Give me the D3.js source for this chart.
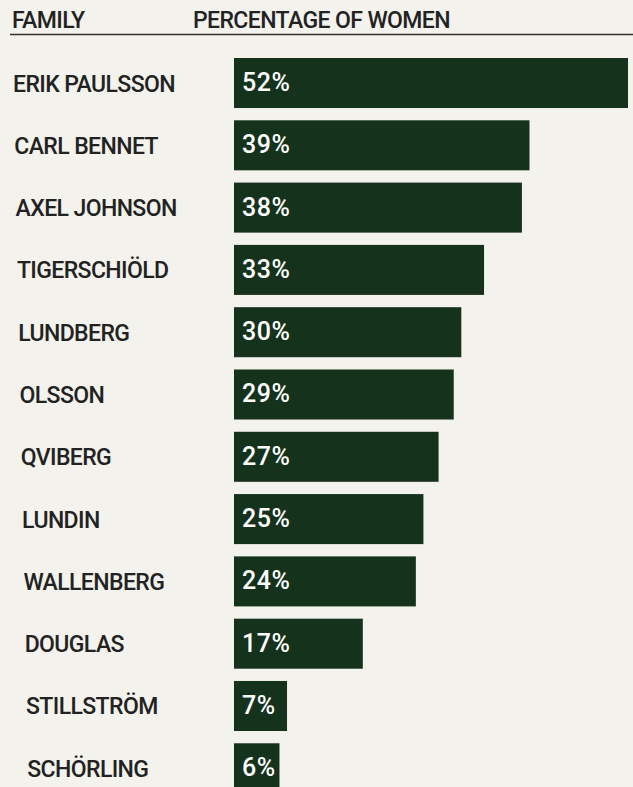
<!DOCTYPE html>
<html>
<head>
<meta charset="utf-8">
<script src="https://cdn.jsdelivr.net/npm/d3@7"></script>
<style>
  html, body { margin: 0; padding: 0; background: #f3f2ec; }
  svg { display: block; }
  text { font-family: Roboto, "Liberation Sans", sans-serif; font-weight: 500; }
</style>
</head>
<body>
<div id="chart"></div>
<script>
// Share of women per family
const families = ["ERIK PAULSSON", "CARL BENNET", "AXEL JOHNSON", "TIGERSCHIÖLD", "LUNDBERG",
  "OLSSON", "QVIBERG", "LUNDIN", "WALLENBERG", "DOUGLAS", "STILLSTRÖM", "SCHÖRLING"];
const womenPct = [52, 39, 38, 33, 30, 29, 27, 25, 24, 17, 7, 6];
const headers = ["FAMILY", "PERCENTAGE OF WOMEN"];

var width = 633, height = 787;

var svg = d3.select("#chart").append("svg")
  .attr("width", width)
  .attr("height", height);

var x = d3.scaleLinear().domain([0, 52]).range([234, 628]);
var y = d3.scaleBand().domain(families).range([58, 793.3]).paddingInner(0.197).paddingOuter(0);

// header
svg.append("text").attr("x", 12).attr("y", 28).attr("font-size", 23).attr("letter-spacing", -0.6)
  .attr("fill", "#222").text(headers[0]);
svg.append("text").attr("x", 193).attr("y", 28).attr("font-size", 23).attr("letter-spacing", -0.6)
  .attr("fill", "#222").text(headers[1]);
svg.append("line").attr("x1", 10).attr("x2", width).attr("y1", 34.5).attr("y2", 34.5)
  .attr("stroke", "#333").attr("stroke-width", 1.5);

var rows = svg.selectAll("g.row").data(families).enter().append("g").attr("class", "row");

rows.append("rect")
  .attr("x", x(0))
  .attr("y", d => y(d))
  .attr("width", (d, i) => x(womenPct[i]) - x(0))
  .attr("height", y.bandwidth())
  .attr("fill", "#15321d");

// labels drift slightly to the right going down, like the original
rows.append("text")
  .attr("x", (d, i) => 13 + i * 1.3)
  .attr("y", d => y(d) + 33.5)
  .attr("font-size", 23).attr("letter-spacing", -0.6)
  .attr("fill", "#222")
  .text(d => d);

rows.append("text")
  .attr("x", x(0) + 8)
  .attr("y", d => y(d) + 33)
  .attr("font-family", "'Liberation Sans', Arial, sans-serif")
  .attr("font-weight", 400)
  .attr("font-size", 25).attr("letter-spacing", 0.5)
  .attr("fill", "#fff")
  .text((d, i) => womenPct[i] + "%");
</script>
</body>
</html>
